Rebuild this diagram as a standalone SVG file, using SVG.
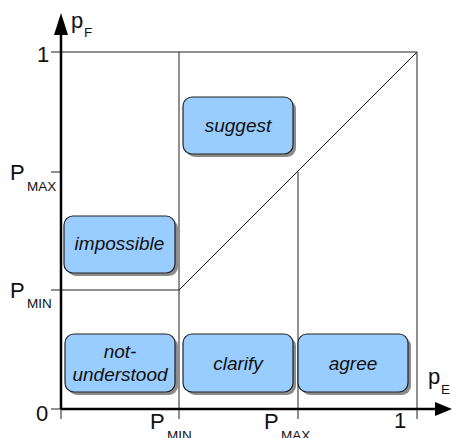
<svg xmlns="http://www.w3.org/2000/svg" width="452" height="438" viewBox="0 0 452 438">
<style>
.grid{stroke:#222;stroke-width:1;fill:none}
.axis{stroke:#000;stroke-width:2.5;fill:none}
.box{fill:#99ccff;stroke:#222;stroke-width:1.2}
.shadow{fill:#666;opacity:0.75}
.lbl{font-family:"Liberation Sans",Arial,sans-serif;font-style:italic;font-size:19px;fill:#111;text-anchor:middle}
.ax{font-family:"Liberation Sans",Arial,sans-serif;font-size:22px;fill:#111}
.sub{font-family:"Liberation Sans",Arial,sans-serif;font-size:13.5px;fill:#111}
</style>
<rect width="452" height="438" fill="#fff"/>
<g id="connectors">
<path class="grid" d="M61 52H417V409M179 52V409M298 172V409M179 290L417 52M61 290H179"/>
<path class="grid" d="M51 52H61M51 172H61M51 290H61M51 409H61M61 409V419M179 409V419M298 409V419M417 409V419"/>
<path class="axis" d="M61 409V33M61 409H436"/>
<polygon points="61,13 54,35 68,35" fill="#000"/>
<polygon points="452,409 435,402 435,416" fill="#000"/>
</g>
<g id="labels">
<text class="ax" x="71" y="28">p</text><text class="sub" x="84" y="37">F</text>
<text class="ax" x="37" y="62">1</text>
<text class="ax" x="10" y="180">P</text><text class="sub" x="27" y="191">MAX</text>
<text class="ax" x="10" y="298">P</text><text class="sub" x="27" y="308">MIN</text>
<text class="ax" x="36" y="421">0</text>
<text class="ax" x="150" y="429">P</text><text class="sub" x="167" y="440">MIN</text>
<text class="ax" x="264" y="429">P</text><text class="sub" x="281" y="440">MAX</text>
<text class="ax" x="394" y="428">1</text>
<text class="ax" x="428" y="384">p</text><text class="sub" x="441" y="394">E</text>
</g>
<g id="suggest">
<rect class="shadow" x="186" y="100" width="110" height="57" rx="9"/>
<rect class="box" x="183" y="97" width="110" height="57" rx="9"/>
<text class="lbl" x="238" y="132">suggest</text>
</g>
<g id="impossible">
<rect class="shadow" x="67" y="219" width="111" height="57" rx="9"/>
<rect class="box" x="64" y="216" width="111" height="57" rx="9"/>
<text class="lbl" x="119.5" y="250">impossible</text>
</g>
<g id="not-understood">
<rect class="shadow" x="68" y="337" width="110" height="58" rx="9"/>
<rect class="box" x="65" y="334" width="110" height="58" rx="9"/>
<text class="lbl" x="120" y="358">not-</text>
<text class="lbl" x="120" y="381">understood</text>
</g>
<g id="clarify">
<rect class="shadow" x="186" y="337" width="110" height="58" rx="9"/>
<rect class="box" x="183" y="334" width="110" height="58" rx="9"/>
<text class="lbl" x="238" y="370">clarify</text>
</g>
<g id="agree">
<rect class="shadow" x="301" y="337" width="110" height="58" rx="9"/>
<rect class="box" x="298" y="334" width="110" height="58" rx="9"/>
<text class="lbl" x="353" y="370">agree</text>
</g>
</svg>
